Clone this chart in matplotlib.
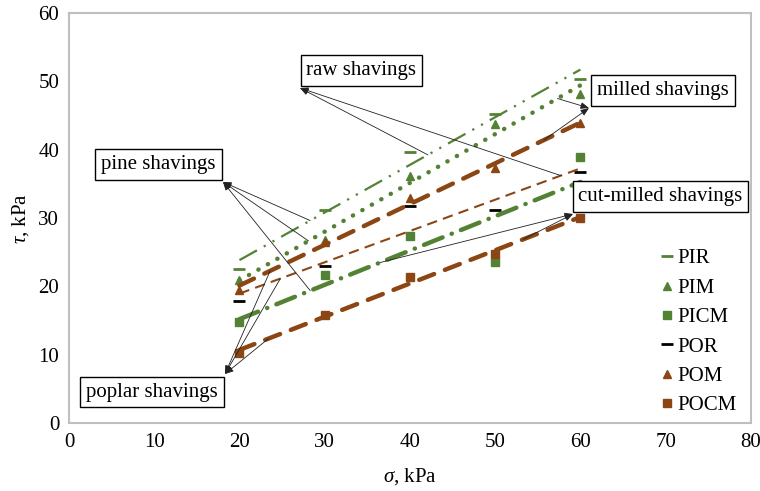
import numpy as np
import matplotlib
matplotlib.use("Agg")
import matplotlib.pyplot as plt

plt.rcParams['font.family'] = ['Liberation Serif', 'DejaVu Serif']
plt.rcParams['mathtext.fontset'] = 'custom'
plt.rcParams['mathtext.rm'] = 'Liberation Serif'
plt.rcParams['mathtext.it'] = 'Liberation Serif:italic'

sigma = [20, 30, 40, 50, 60]
PIR = [22.6, 31.1, 39.6, 45.2, 50.4]
PIM = [20.9, 26.8, 36.1, 43.8, 48.1]
PICM = [14.8, 21.6, 27.3, 23.6, 38.9]
POR = [17.9, 23.0, 31.7, 31.2, 36.7]
POM = [19.5, 26.5, 33.0, 37.3, 43.9]
POCM = [10.2, 15.8, 21.3, 24.8, 30.0]

GREEN = '#548235'
BROWN = '#8C4614'
FS = 15

series = [
    ('PIR', PIR, GREEN, '_', dict(lw=1.6, dashes=(9, 3.5, 1, 3.5, 1, 3.5), color=GREEN)),
    ('PIM', PIM, GREEN, '^', dict(lw=3.2, dashes=(0.05, 2.4), color=GREEN, dash_capstyle='round')),
    ('PICM', PICM, GREEN, 's', dict(lw=3.2, dashes=(4.5, 2.2, 0.05, 2.2), color=GREEN, dash_capstyle='round')),
    ('POR', POR, 'black', '_', dict(lw=1.5, dashes=(5, 3), color=BROWN)),
    ('POM', POM, BROWN, '^', dict(lw=3.2, dashes=(3.6, 2.6), color=BROWN, dash_capstyle='round')),
    ('POCM', POCM, BROWN, 's', dict(lw=3.2, dashes=(3.6, 2.6), color=BROWN, dash_capstyle='round')),
]

fig = plt.figure(figsize=(7.6, 4.91), dpi=100)
L, B, W, H = 0.0908, 0.1385, 0.8972, 0.835
ax = fig.add_axes([L, B, W, H])

x = np.array(sigma, dtype=float)
fits = {}
handles = []
for name, ys, mc, mk, ls in series:
    ms = 8 if mk == '_' else 5.5
    mew = 2 if mk == '_' else 1
    h, = ax.plot(x, ys, linestyle='none', marker=mk, color=mc, ms=ms, mew=mew, label=name, zorder=3)
    handles.append(h)
    p = np.polyfit(x, ys, 1)
    fits[name] = p
    xx = np.array([x.min(), x.max()])
    ax.plot(xx, np.polyval(p, xx), zorder=4, **ls)

ax.set_xlim(0, 80)
ax.set_ylim(0, 60)
ax.set_xticks(range(0, 81, 10))
ax.set_yticks(range(0, 61, 10))
ax.tick_params(length=0, labelsize=FS, pad=7)
for s in ax.spines.values():
    s.set_color('#BFBFBF')
    s.set_linewidth(1.5)

ax.set_xlabel(r'$\sigma$, kPa', fontsize=FS, labelpad=10)
ax.set_ylabel(r'$\tau$, kPa', fontsize=FS, labelpad=5)

leg = ax.legend(handles=handles, loc='upper left', bbox_to_anchor=(0.852, 0.445),
                frameon=False, fontsize=FS, handlelength=0.8, handletextpad=0.13,
                labelspacing=0.47, borderaxespad=0)


def fy(name, xv):
    return np.polyval(fits[name], xv)


def px2data(px, py):
    X0, X1 = L * 760, (L + W) * 760
    Y0, Y1 = 491 - B * 491, 491 - (B + H) * 491
    return (px - X0) / (X1 - X0) * 80, (Y0 - py) / (Y0 - Y1) * 60


# annotation boxes: text, box centre (px), arrow corner (px), targets on trend lines
annots = [
    ('raw shavings', (361.5, 70.5), (300, 88), [('PIR', 42.1), ('POR', 57.7)]),
    ('milled shavings', (663, 90.5), (589, 108), [('PIM', 57.3), ('POM', 55.7)]),
    ('cut-milled shavings', (660.5, 196.5), (573, 214), [('PICM', 36.5), ('POCM', 53.3)]),
    ('pine shavings', (158.5, 164.5), (223, 182), [('PIR', 28.3), ('PIM', 28.1), ('PICM', 28.3)]),
    ('poplar shavings', (152, 392), (225, 374), [('POM', 23.6), ('POR', 24.8), ('POCM', 23.4)]),
]
for txt, cen, corner, targets in annots:
    c = px2data(*corner)
    for nm, xv in targets:
        ax.annotate('', xy=c, xytext=(xv, fy(nm, xv)),
                    arrowprops=dict(arrowstyle='-|>,head_length=0.5,head_width=0.2',
                                    color='#222222', lw=0.6, shrinkA=0, shrinkB=0), zorder=7)
    tc = px2data(*cen)
    ax.text(tc[0], tc[1], txt, ha='center', va='center', fontsize=FS, zorder=6,
            bbox=dict(boxstyle='square,pad=0.28', fc='white', ec='black', lw=1.0))

fig.savefig('out.png', dpi=100)
